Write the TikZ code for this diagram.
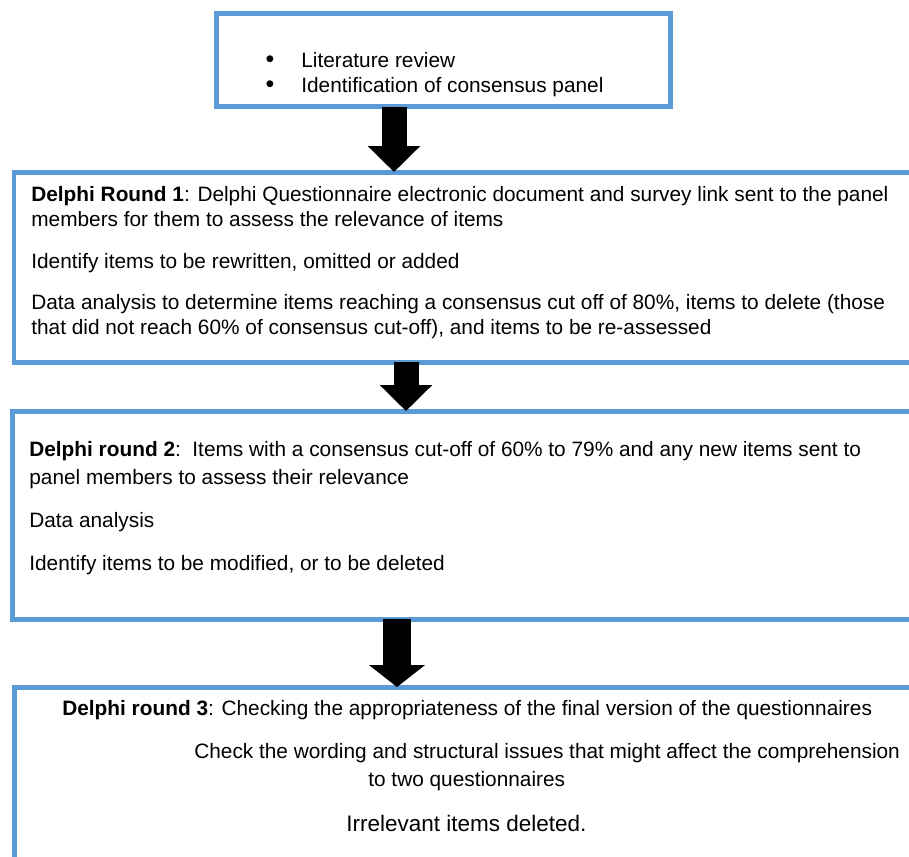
\documentclass[tikz,border=0pt]{standalone}
\usepackage{fontspec}
\setmainfont{Liberation Sans}
\usetikzlibrary{arrows.meta,positioning}
\definecolor{panelblue}{RGB}{91,155,213}

\begin{document}
\begin{tikzpicture}[
  x=0.02cm, y=-0.02cm,
  font=\fontsize{11.85}{14.2}\selectfont,
  panel/.style={draw=panelblue, line width=0.1cm, inner sep=0pt, outer sep=0pt, anchor=north west},
  txt/.style={anchor=base west, align=left, inner sep=0pt},
  flow/.style={-{Triangle[length=0.52cm, width=1.02cm]}, line width=0.5cm}
]
\useasboundingbox (0,0) rectangle (909,856);
\clip (0,0) rectangle (909,856);

% boxes (the lower ones run off the page)
\node[panel, minimum width=9.1cm, minimum height=1.88cm] (intro) at (216,13) {};
\node[panel, minimum width=18.32cm, minimum height=3.81cm] (round1) at (14,172) {};
\node[panel, minimum width=18.35cm, minimum height=4.17cm] (round2) at (12.5,411) {};
\node[panel, minimum width=18.31cm, minimum height=4.3cm] (round3) at (14.5,687) {};

% intro
\node[txt] (lit) at (301,67) {Literature review};
\node[txt] (panelid) at (301,92) {Identification of consensus panel};
\node[anchor=base, inner sep=0pt, scale=1.2] (b1) at (270,67) {\textbullet};
\node[anchor=base, inner sep=0pt, scale=1.2] (b2) at (270,92) {\textbullet};

% round 1 (multi-line nodes sit on their last baseline)
\node[txt] (r1a) at (31,226) {\textbf{Delphi Round 1}: Delphi Questionnaire electronic document and survey link sent to the panel\\members for them to assess the relevance of items};
\node[txt] (r1b) at (31,268) {Identify items to be rewritten, omitted or added};
\node[txt] (r1c) at (31,334) {Data analysis to determine items reaching a consensus cut off of 80\%, items to delete (those\\that did not reach 60\% of consensus cut-off), and items to be re-assessed};

% round 2
\node[txt, font=\fontsize{11.85}{15.4}\selectfont] (r2a) at (29,484) {\textbf{Delphi round 2}:\ \ Items with a consensus cut-off of 60\% to 79\% and any new items sent to\\panel members to assess their relevance};
\node[txt] (r2b) at (29,527) {Data analysis};
\node[txt] (r2c) at (29,570) {Identify items to be modified, or to be deleted};

% round 3
\node[txt] (r3a) at (62,715) {\textbf{Delphi round 3}: Checking the appropriateness of the final version of the questionnaires};
\node[txt] (r3b) at (194,758) {Check the wording and structural issues that might affect the comprehension};
\node[txt] (r3c) at (368,786) {to two questionnaires};
\node[txt, font=\fontsize{12.8}{15}\selectfont] (r3d) at (346,831) {Irrelevant items deleted.};

% block arrows
\coordinate (a1) at (394,0);
\coordinate (a2) at (406,0);
\coordinate (a3) at (397,0);
\draw[flow] (a1 |- intro.south) -- (a1 |- round1.north);
\draw[flow] (a2 |- round1.south) -- (a2 |- round2.north);
\draw[flow, line width=0.56cm, -{Triangle[length=0.44cm, width=1.1cm]}] (a3 |- round2.south) -- (a3 |- round3.north);

\end{tikzpicture}
\end{document}
